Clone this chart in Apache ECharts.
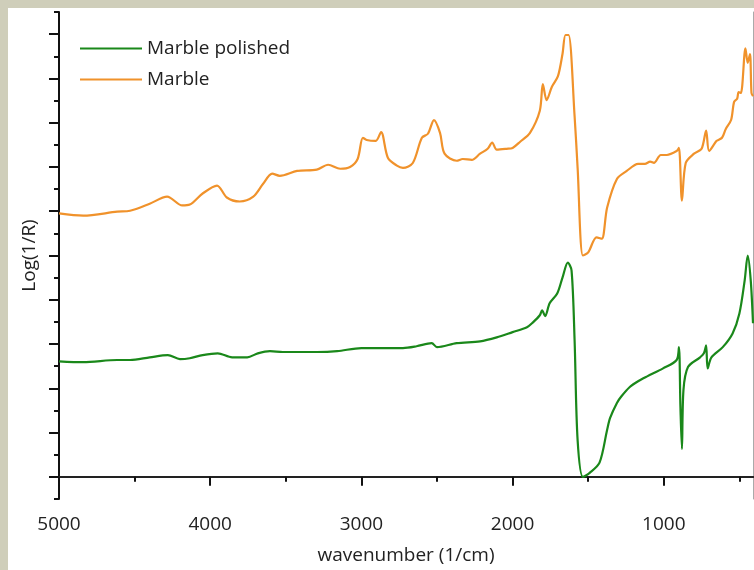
<!DOCTYPE html>
<html>
<head>
<meta charset="utf-8">
<script src="https://cdn.jsdelivr.net/npm/echarts@6/dist/echarts.min.js"></script>
<style>
html,body{margin:0;padding:0;background:#fff;}
#chart{width:754px;height:570px;}
</style>
</head>
<body>
<div id="chart"></div>
<script>
// ---- data ----
const seriesNames = ['Marble polished', 'Marble'];

const wnPolished = [5000,4840,4615,4530,4400,4280,4200,4135,4050,3950,3855,3755,3685,3605,3520,3295,3160,3000,2860,2725,2635,2535,2500,2370,2215,2105,2000,1905,1865,1820,1805,1785,1755,1705,1670,1635,1610,1590,1570,1535,1490,1425,1375,1355,1310,1280,1225,1170,1110,1005,915,900,890,880,870,840,760,735,720,710,685,610,545,500,465,445,425,410];
const valPolished = [2.61,2.59,2.64,2.64,2.70,2.75,2.66,2.68,2.75,2.79,2.70,2.70,2.79,2.84,2.82,2.82,2.84,2.91,2.91,2.91,2.95,3.02,2.93,3.02,3.06,3.15,3.27,3.38,3.49,3.65,3.76,3.63,3.92,4.14,4.50,4.84,4.66,3.09,0.83,0.00,0.09,0.32,1.06,1.33,1.67,1.82,2.03,2.16,2.27,2.45,2.64,2.93,1.58,0.63,1.96,2.48,2.70,2.79,2.97,2.45,2.70,2.93,3.24,3.69,4.44,5.00,4.44,3.47];

const wnMarble = [5000,4840,4615,4530,4400,4285,4185,4135,4050,3955,3890,3805,3715,3650,3590,3540,3425,3295,3220,3140,3075,3025,2990,2965,2905,2870,2825,2765,2725,2660,2600,2560,2520,2480,2450,2370,2330,2270,2215,2165,2135,2105,2040,2000,1950,1885,1820,1800,1775,1740,1700,1670,1650,1630,1590,1570,1535,1500,1445,1410,1375,1310,1245,1170,1125,1090,1065,1020,980,915,900,880,855,800,750,720,700,650,615,590,555,535,515,505,490,460,445,430,420,410];
const valMarble = [5.95,5.90,5.99,6.01,6.17,6.33,6.13,6.15,6.40,6.58,6.31,6.22,6.33,6.62,6.85,6.80,6.91,6.94,7.05,6.96,7.00,7.18,7.66,7.61,7.59,7.79,7.21,7.03,6.98,7.09,7.66,7.75,8.06,7.77,7.30,7.14,7.18,7.16,7.30,7.41,7.55,7.39,7.41,7.43,7.57,7.77,8.27,8.87,8.51,8.81,9.05,9.55,9.98,9.98,8.15,6.98,5.00,5.07,5.41,5.38,6.08,6.73,6.91,7.07,7.07,7.12,7.09,7.27,7.27,7.36,7.43,6.24,7.09,7.30,7.41,7.82,7.36,7.59,7.66,7.86,8.06,8.47,8.54,8.69,8.67,9.68,9.35,9.55,8.67,8.60];

const xMajorTicks = [1000,2000,3000,4000,5000];
const xMinorTicks = [500,1500,2500,3500,4500];
const yMajorTicks = [0,1,2,3,4,5,6,7,8,9,10];
const yMinorTicks = [-0.5,0.5,1.5,2.5,3.5,4.5,5.5,6.5,7.5,8.5,9.5,10.5];
const xMin = 410, xMax = 5000, yMin = -0.5, yMax = 10.5;

const zip = (xs, ys) => xs.map((x, i) => [x, ys[i]]);

const FONT = '"Open Sans", "Noto Sans", sans-serif';
const GREEN = '#1a881a', ORANGE = '#f0922b';
const chart = echarts.init(document.getElementById('chart'), null, {renderer: 'canvas'});
chart.setOption({
  animation: false,
  backgroundColor: '#ffffff',
  graphic: [
    {type: 'rect', shape: {x: 0, y: 0, width: 754, height: 8}, style: {fill: '#cfceba'}, silent: true, z: -10},
    {type: 'rect', shape: {x: 0, y: 0, width: 8, height: 570}, style: {fill: '#cfceba'}, silent: true, z: -10}
  ],
  grid: {left: 59, right: 1, top: 12, bottom: 71, containLabel: false},
  legend: {
    orient: 'vertical', left: 75, top: 32,
    icon: 'rect',
    itemWidth: 62, itemHeight: 2, itemGap: 8,
    textStyle: {fontFamily: FONT, fontSize: 19, color: '#222', lineHeight: 23},
    data: seriesNames
  },
  xAxis: [
    {
      type: 'value', position: 'bottom', min: xMin, max: xMax, inverse: true,
      name: 'wavenumber (1/cm)', nameLocation: 'middle', nameGap: 47,
      nameTextStyle: {fontFamily: FONT, fontSize: 19, color: '#222'},
      axisLine: {show: true, lineStyle: {color: '#111', width: 2}},
      axisTick: {show: true, customValues: xMajorTicks, length: 9, inside: false, lineStyle: {color: '#111', width: 2}},
      axisLabel: {show: true, customValues: xMajorTicks, margin: 16, fontFamily: FONT, fontSize: 19, color: '#222',
        formatter: v => String(v)},
      splitLine: {show: false}
    },
    {
      type: 'value', position: 'bottom', min: xMin, max: xMax, inverse: true,
      axisLine: {show: false},
      axisTick: {show: true, customValues: xMinorTicks, length: 5, lineStyle: {color: '#111', width: 2}},
      axisLabel: {show: false}, splitLine: {show: false}
    },
    {
      type: 'value', position: 'top', min: xMin, max: xMax, inverse: true,
      axisLine: {show: true, lineStyle: {color: '#222', width: 2}},
      axisTick: {show: false}, axisLabel: {show: false}, splitLine: {show: false}
    }
  ],
  yAxis: [
    {
      type: 'value', position: 'left', min: yMin, max: yMax,
      name: 'Log(1/R)', nameLocation: 'middle', nameGap: 20,
      nameTextStyle: {fontFamily: FONT, fontSize: 19, color: '#222'},
      axisLine: {show: true, lineStyle: {color: '#111', width: 2}},
      axisTick: {show: true, customValues: yMajorTicks, length: 10, lineStyle: {color: '#111', width: 2}},
      axisLabel: {show: false}, splitLine: {show: false}
    },
    {
      type: 'value', position: 'left', min: yMin, max: yMax,
      axisLine: {show: false},
      axisTick: {show: true, customValues: yMinorTicks, length: 5, lineStyle: {color: '#111', width: 2}},
      axisLabel: {show: false}, splitLine: {show: false}
    },
    {
      type: 'value', position: 'right', min: yMin, max: yMax,
      axisLine: {show: true, lineStyle: {color: '#aaaaaa', width: 1}},
      axisTick: {show: false}, axisLabel: {show: false}, splitLine: {show: false}
    }
  ],
  series: [
    {
      name: seriesNames[0], type: 'line', xAxisIndex: 0, yAxisIndex: 0,
      data: zip(wnPolished, valPolished), symbol: 'none',
      smooth: 0.3,
      lineStyle: {color: GREEN, width: 2.2}, itemStyle: {color: GREEN}
    },
    {
      name: seriesNames[1], type: 'line', xAxisIndex: 0, yAxisIndex: 0,
      data: zip(wnMarble, valMarble), symbol: 'none',
      smooth: 0.3,
      lineStyle: {color: ORANGE, width: 2.2}, itemStyle: {color: ORANGE}
    }
  ]
});
</script>
</body>
</html>
